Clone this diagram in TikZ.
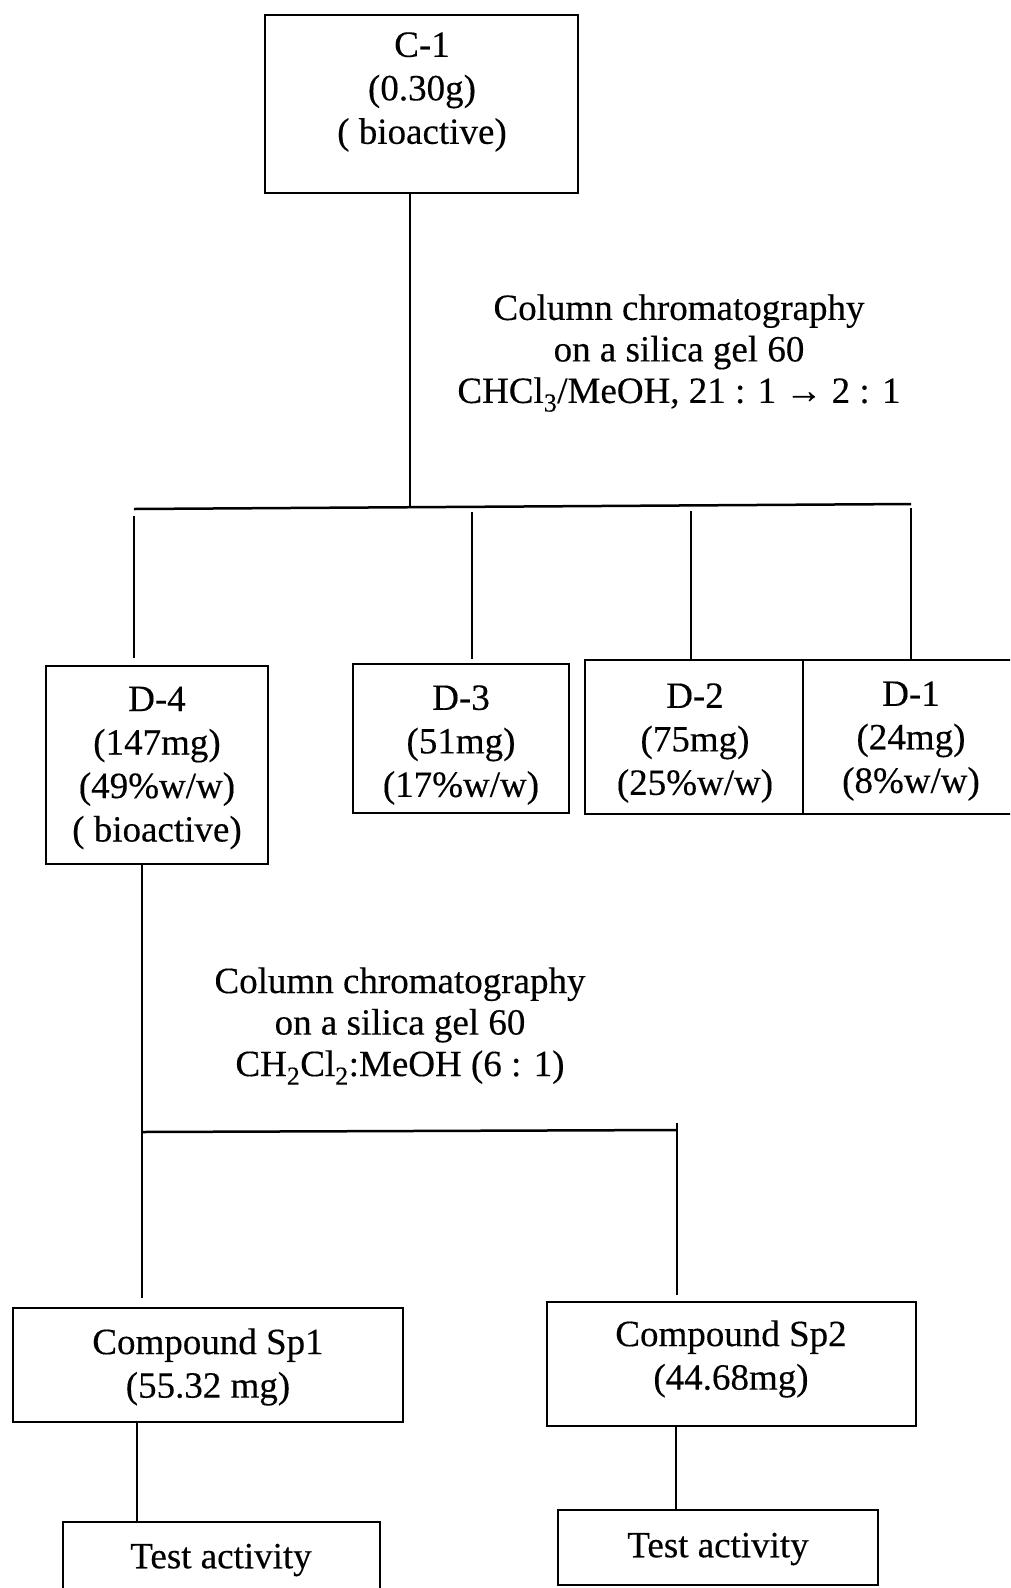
\documentclass[tikz,border=0pt]{standalone}
\usepackage{fontspec}
\setmainfont{Liberation Serif}[FakeBold=0.3]
\begin{document}
\begin{tikzpicture}[x=1pt,y=-1pt,
  box/.style={draw, line width=2.4pt, inner sep=0pt, outer sep=0pt},
  txt/.style={align=center, inner sep=0pt, font=\fontsize{37}{43.5}\selectfont\addfontfeatures{FakeBold=0.3}},
  ctxt/.style={align=center, inner sep=0pt, font=\fontsize{37}{41.5}\selectfont\addfontfeatures{FakeBold=0.3}},
  conn/.style={line width=1.8pt},
  bar/.style={line width=2.5pt}]
\useasboundingbox (0,0) rectangle (1010,1588);
\clip (0,0) rectangle (1010,1588);
\fill[white] (0,0) rectangle (1010,1588);

% boxes
\node[box, minimum width=313pt, minimum height=178pt] (c1) at (421.5,104) {};
\node[box, minimum width=222pt, minimum height=198pt] (d4) at (157,765) {};
\node[box, minimum width=216pt, minimum height=149pt] (d3) at (461,738.5) {};
\node[box, minimum width=218pt, minimum height=154pt] (d2) at (694,737) {};
\node[box, minimum width=227pt, minimum height=154pt] (d1) at (916.5,737) {};
\node[box, minimum width=390pt, minimum height=114pt] (sp1) at (208,1365) {};
\node[box, minimum width=369pt, minimum height=124pt] (sp2) at (731.5,1364) {};
\node[box, minimum width=317pt, minimum height=90pt] (t1) at (221.5,1567) {};
\node[box, minimum width=320pt, minimum height=75pt] (t2) at (718,1547.5) {};

% texts
\node[txt] (c1t) at (422,92) {C-1\\(0.30g)\\( bioactive)};
\node[ctxt] (ch1) at (679,353) {Column chromatography\\on a silica gel 60\\CHCl\textsubscript{3}/MeOH, 21 : 1 → 2 : 1};
\node[txt] (d4t) at (157,768) {D-4\\(147mg)\\(49\%w/w)\\( bioactive)};
\node[txt] (d3t) at (461,745) {D-3\\(51mg)\\(17\%w/w)};
\node[txt] (d2t) at (695,743) {D-2\\(75mg)\\(25\%w/w)};
\node[txt] (d1t) at (911,741) {D-1\\(24mg)\\(8\%w/w)};
\node[ctxt] (ch2) at (400,1026) {Column chromatography\\on a silica gel 60\\CH\textsubscript{2}Cl\textsubscript{2}:MeOH (6 : 1)};
\node[txt] (sp1t) at (208,1367) {Compound Sp1\\(55.32 mg)};
\node[txt] (sp2t) at (731,1359) {Compound Sp2\\(44.68mg)};
\node[txt] (t1t) at (221,1560) {Test activity};
\node[txt] (t2t) at (718,1549) {Test activity};

% first split
\coordinate (j1) at (410,507);
\coordinate (bl) at (134,509);
\coordinate (b3) at (472,507);
\coordinate (b2) at (691,505.5);
\coordinate (br) at (911,504);
\draw[conn] (c1.south -| j1) -- (j1);
\draw[bar] (bl) -- (br);
\draw[conn, shorten <=7pt, shorten >=8pt] (bl) -- (bl |- d4.north);
\draw[conn, shorten <=5pt, shorten >=5pt] (b3) -- (b3 |- d3.north);
\draw[conn, shorten <=5pt] (b2) -- (b2 |- d2.north);
\draw[conn, shorten <=4pt] (br) -- (br |- d1.north);

% second split
\coordinate (k1) at (142,1132);
\coordinate (k2) at (677,1130);
\draw[conn, shorten >=10pt] (d4.south -| k1) -- (k1 |- sp1.north);
\draw[bar] (k1) -- (k2);
\draw[conn, shorten <=-7pt, shorten >=7pt] (k2) -- (k2 |- sp2.north);

% to test activity
\coordinate (m1) at (137,1470);
\coordinate (m2) at (676,1470);
\draw[conn] (sp1.south -| m1) -- (m1 |- t1.north);
\draw[conn] (sp2.south -| m2) -- (m2 |- t2.north);
\end{tikzpicture}
\end{document}
